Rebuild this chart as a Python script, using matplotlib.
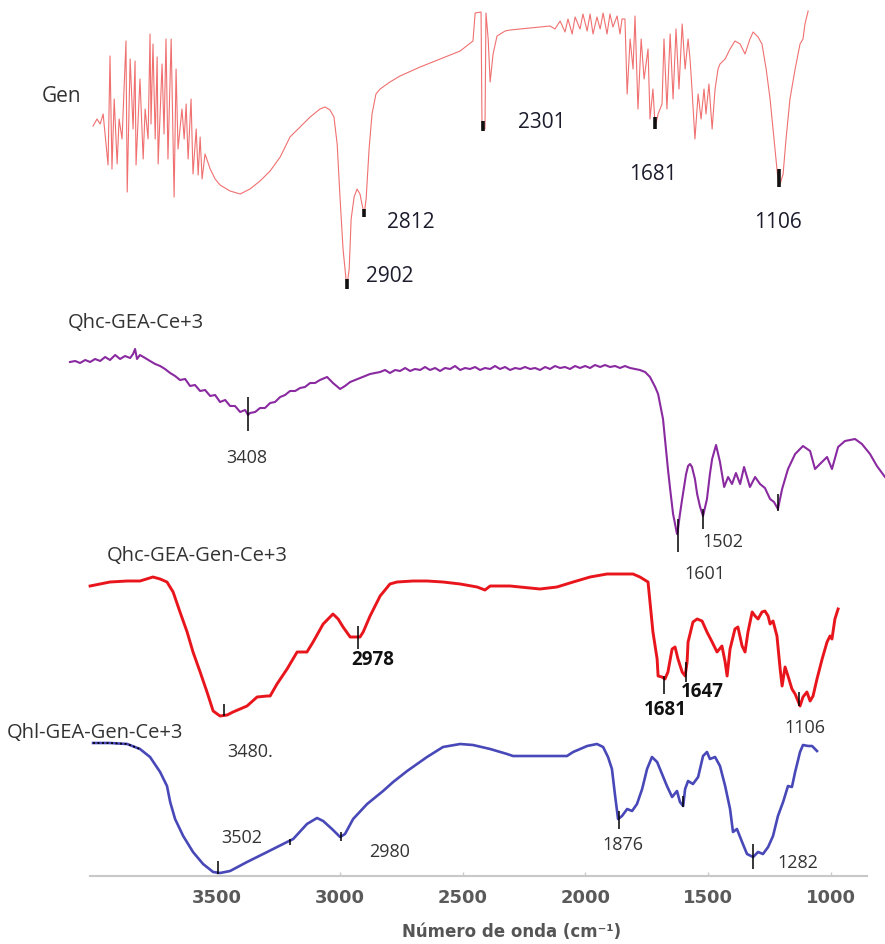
import matplotlib
matplotlib.use("Agg")
import matplotlib.pyplot as plt
import numpy as np

# ---------------- data (wavenumber cm-1, relative transmittance with offsets) -------------
gen_wn = [4005, 3989, 3976, 3964, 3956, 3944, 3936, 3928, 3919, 3907, 3899, 3887, 3871, 3866,
          3854, 3842, 3834, 3830, 3814, 3801, 3793, 3781, 3773, 3769, 3761, 3752, 3744, 3740,
          3724, 3716, 3708, 3700, 3687, 3675, 3667, 3659, 3643, 3634, 3626, 3618, 3606, 3598,
          3585, 3577, 3569, 3561, 3549, 3528, 3508, 3488, 3447, 3406, 3366, 3325, 3284, 3243,
          3203, 3162, 3121, 3081, 3060, 3040, 3024, 3011, 2999, 2987, 2975, 2971, 2962, 2954,
          2942, 2930, 2918, 2910, 2901, 2893, 2881, 2869, 2853, 2836, 2796, 2755, 2673, 2592,
          2510, 2458, 2449, 2425, 2421, 2409, 2405, 2396, 2388, 2376, 2360, 2327, 2307, 2266,
          2185, 2144, 2124, 2103, 2083, 2071, 2054, 2042, 2022, 2010, 1993, 1981, 1969, 1953,
          1940, 1928, 1912, 1900, 1888, 1871, 1859, 1851, 1839, 1830, 1818, 1806, 1798, 1786,
          1773, 1761, 1745, 1737, 1725, 1716, 1704, 1688, 1680, 1668, 1655, 1643, 1631, 1619,
          1606, 1594, 1582, 1574, 1566, 1554, 1541, 1529, 1517, 1509, 1497, 1484, 1472, 1460,
          1452, 1431, 1411, 1391, 1370, 1350, 1330, 1317, 1297, 1281, 1264, 1248, 1232, 1216,
          1207, 1195, 1183, 1167, 1146, 1126, 1114, 1106, 1093]
gen_t = [750, 757, 752, 762, 742, 711, 820, 707, 777, 712, 757, 737, 835, 684,
         817, 747, 815, 711, 797, 717, 767, 737, 842, 752, 832, 737, 819, 712,
         812, 742, 837, 717, 837, 679, 807, 727, 767, 737, 772, 717, 777, 702,
         747, 701, 739, 697, 722, 707, 697, 691, 685, 682, 687, 695, 705, 719,
         739, 749, 759, 767, 769, 766, 759, 732, 677, 627, 597, 590, 607, 657,
         679, 687, 682, 672, 662, 677, 727, 762, 782, 787, 794, 800, 809, 817,
         825, 835, 863, 864, 747, 747, 863, 837, 794, 822, 840, 845, 846, 847,
         849, 850, 847, 855, 844, 857, 842, 859, 847, 862, 845, 862, 842, 859,
         847, 863, 842, 862, 849, 860, 842, 857, 857, 782, 837, 807, 860, 767,
         837, 797, 827, 757, 787, 749, 762, 772, 837, 767, 842, 777, 847, 787,
         852, 807, 837, 817, 787, 737, 782, 757, 787, 762, 792, 747, 787, 807,
         812, 817, 827, 835, 832, 822, 837, 844, 839, 832, 807, 777, 737, 697,
         692, 702, 737, 777, 807, 832, 837, 852, 865]

ce_wn = [4099, 4078, 4058, 4037, 4017, 3997, 3976, 3956, 3936, 3915, 3895, 3875, 3854, 3842,
         3834, 3826, 3814, 3793, 3773, 3752, 3732, 3712, 3691, 3671, 3651, 3630, 3610, 3590,
         3569, 3549, 3528, 3508, 3488, 3467, 3447, 3427, 3406, 3386, 3374, 3366, 3345, 3325,
         3305, 3284, 3264, 3243, 3223, 3203, 3182, 3162, 3142, 3121, 3101, 3081, 3052, 3028,
         2999, 2979, 2958, 2918, 2877,
         2836, 2816, 2796, 2775, 2755, 2734, 2714, 2694, 2673, 2653, 2633, 2612, 2592, 2572,
         2551, 2531, 2510, 2490, 2470, 2449, 2429, 2409, 2388, 2368, 2348, 2327, 2307, 2286,
         2266, 2246, 2225, 2205, 2185, 2164, 2144, 2124, 2103, 2083, 2063, 2042, 2022, 2001,
         1981, 1961, 1940, 1920, 1900, 1879, 1859, 1839, 1818, 1798, 1778,
         1757, 1737, 1716, 1704, 1696, 1684, 1676, 1664, 1655, 1643,
         1635, 1627, 1623, 1615, 1606, 1590, 1582, 1574, 1566, 1554, 1545, 1533, 1521, 1505,
         1493, 1484, 1468, 1452, 1435, 1419, 1403, 1387, 1370, 1354, 1330, 1309, 1289, 1269,
         1248, 1232, 1216, 1199, 1175, 1146, 1114, 1085, 1065, 1045, 1016, 996, 971, 943,
         902, 874, 841, 813, 780]
ce_t = [514, 515, 513, 516, 514, 517, 515, 519, 516, 521, 517, 520, 518, 522,
        527, 517, 521, 518, 515, 512, 510, 507, 503, 500, 496, 497, 490, 491,
        485, 486, 480, 481, 474, 476, 470, 470, 464, 466, 461, 463, 464, 468,
        468, 473, 474, 479, 481, 485, 485, 488, 489, 493, 493, 496, 499, 493,
        487, 490, 494, 498, 502,
        504, 506, 503, 506, 505, 508, 505, 507, 506, 509, 506, 508, 505, 508,
        507, 510, 506, 508, 507, 509, 506, 508, 507, 510, 507, 509, 506, 508,
        507, 509, 507, 508, 506, 509, 507, 510, 508, 509, 507, 510, 508, 510,
        508, 511, 509, 511, 509, 510, 508, 510, 508, 507, 506,
        504, 499, 489, 482, 472, 457, 437, 407, 387, 362,
        352, 342, 347, 362, 377, 402, 410, 412, 409, 397, 382, 369, 360, 377,
        402, 417, 431, 414, 389, 399, 392, 403, 392, 409, 389, 399, 392, 388,
        377, 374, 367, 387, 407, 422, 430, 425, 407, 412, 419, 407, 429, 435,
        437, 432, 422, 410, 399]

gce_wn = [4017, 3936, 3866, 3814, 3761, 3732, 3704, 3679, 3651, 3622, 3598, 3569, 3541, 3516,
          3488, 3459, 3435, 3378, 3337, 3296, 3284, 3256, 3215, 3174, 3134, 3109, 3068, 3028,
          3007, 2987, 2958, 2930, 2918, 2905, 2877, 2836, 2796, 2767, 2702, 2645, 2580, 2510,
          2441, 2409, 2388, 2307, 2185, 2116, 2050, 1981, 1912, 1806, 1778, 1745, 1737, 1725,
          1708, 1704, 1688, 1676, 1664, 1647, 1635, 1623, 1606, 1594, 1586, 1582, 1562, 1545,
          1525, 1505, 1484, 1464, 1444, 1431, 1423, 1411, 1391, 1379, 1362, 1350, 1338, 1321,
          1309, 1297, 1281, 1269, 1256, 1248, 1236, 1220, 1207, 1199, 1187, 1175, 1159, 1146,
          1126, 1114, 1098, 1085, 1073, 1057, 1036, 1016, 1004, 996, 984, 971]
gce_t = [290, 294, 295, 295, 299, 297, 294, 284, 264, 244, 224, 204, 184, 165,
         160, 161, 164, 170, 179, 180, 180, 192, 207, 224, 224, 234, 252, 262,
         257, 249, 239, 239, 239, 244, 260, 280, 292, 294, 295, 295, 294, 292,
         289, 286, 290, 290, 287, 289, 294, 299, 302, 302, 299, 294, 274, 244,
         217, 200, 199, 197, 204, 227, 229, 217, 204, 200, 214, 234, 254, 257,
         255, 244, 234, 224, 230, 214, 200, 227, 247, 249, 230, 224, 244, 264,
         260, 257, 264, 265, 260, 252, 255, 240, 207, 190, 209, 200, 187, 182,
         170, 179, 184, 175, 180, 197, 217, 234, 240, 237, 257, 267]

gl_wn = [4005, 3936, 3866, 3814, 3773, 3732, 3704, 3691, 3671, 3638, 3598, 3557, 3516, 3488,
         3447, 3378, 3296, 3215, 3190, 3134, 3093, 3068, 3032, 2999, 2979, 2946, 2889, 2824,
         2783, 2726, 2645, 2580, 2510, 2458, 2388, 2319, 2295, 2185, 2075, 2050, 1993, 1953,
         1928, 1908, 1892, 1879, 1867, 1851, 1830, 1810, 1790, 1769, 1749, 1729, 1708, 1688,
         1668, 1647, 1627, 1615, 1602, 1594, 1582, 1562, 1541, 1521, 1505, 1493, 1472, 1452,
         1431, 1411, 1399, 1383, 1362, 1342, 1317, 1297, 1277, 1256, 1236, 1216, 1195, 1175,
         1159, 1146, 1126, 1114, 1093, 1077, 1057]
gl_t = [133, 133, 132, 127, 119, 104, 90, 74, 57, 40, 24, 12, 4, 3,
        5, 14, 24, 34, 37, 52, 58, 55, 47, 39, 42, 57, 72, 85,
        94, 105, 119, 129, 132, 131, 127, 122, 120, 120, 120, 124, 130, 132,
        129, 119, 107, 80, 57, 60, 67, 65, 72, 87, 107, 119, 114, 102,
        90, 79, 85, 74, 70, 87, 95, 92, 99, 120, 124, 117, 119, 110,
        90, 67, 44, 47, 34, 22, 19, 24, 22, 29, 40, 60, 74, 90,
        89, 104, 124, 131, 130, 130, 125]

# peak markers: (wavenumber, lower, upper)
gen_marks = [(2971, 587, 597), (2901, 659, 667), (2417, 745, 755), (1716, 747, 759), (1212, 689, 707)]
ce_marks = [(3374, 445, 479), (1623, 324, 357), (1521, 347, 367), (1216, 365, 382)]
gce_marks = [(3471, 160, 172), (2926, 227, 250), (1680, 182, 200), (1590, 194, 214), (1130, 170, 184)]
gl_marks = [(3496, 2, 15), (3203, 31, 37), (2995, 35, 44), (1863, 47, 65), (1602, 69, 80), (1317, 7, 32)]

xticks = [3500, 3000, 2500, 2000, 1500, 1000]
xlabel = "Número de onda (cm⁻¹)"

# ---------------- figure ----------------
W, H = 885, 945
fig = plt.figure(figsize=(W / 100, H / 100), dpi=100)
ax = fig.add_axes([0, 68 / H, 1, 877 / H])
ax.set_xlim(4384, 780)
ax.set_ylim(0, 877)

ax.plot(gen_wn, gen_t, color="#f07070", lw=0.8)
ax.plot(ce_wn, ce_t, color="#8a2aa0", lw=1.5)
ax.plot(gce_wn, gce_t, color="#e8161c", lw=2.1)
ax.plot(gl_wn, gl_t, color="#4848b8", lw=1.9)
ax.plot(gl_wn[:4], gl_t[:4], color="black", lw=1.3, ls=(0, (1, 1.5)))

def marks(lst, lw, color="black"):
    for w, lo, hi in lst:
        ax.vlines(w, lo, hi, color=color, lw=lw)

marks(gen_marks, 2.6, "#111111")
marks(ce_marks, 1.1)
marks(gce_marks, 1.1)
marks(gl_marks, 1.1)

for s in ["top", "left", "right"]:
    ax.spines[s].set_visible(False)
ax.spines["bottom"].set_color("#c8c8c8")
ax.spines["bottom"].set_linewidth(1.5)
ax.spines["bottom"].set_bounds(853, 4017)
ax.set_yticks([])
ax.set_xticks(xticks)
ax.tick_params(axis="x", direction="in", length=3, width=1, color="#c8c8c8", pad=9,
               labelsize=13, labelcolor="#5a5a5a")
for t in ax.get_xticklabels():
    t.set_fontweight("bold")
ax.patch.set_alpha(0)

def ftxt(x, y, s, size=14, ha="center", weight="normal", color="#333333", family="Open Sans"):
    fig.text(x / W, 1 - y / H, s, ha=ha, va="center", fontsize=size, fontweight=weight,
             color=color, family=family)

ftxt(512, 932, xlabel, size=12, weight="bold", color="#555555", family="DejaVu Sans")

# series names
ftxt(42, 97, "Gen", size=15, ha="left")
ftxt(68, 323, "Qhc-GEA-Ce+3", size=14.5, ha="left")
ftxt(107, 556, "Qhc-GEA-Gen-Ce+3", size=14.5, ha="left")
ftxt(7, 733, "Qhl-GEA-Gen-Ce+3", size=14.5, ha="left")

# Gen labels
gc = "#1c1c2c"
ftxt(411, 222, "2812", size=15, color=gc)
ftxt(390, 277, "2902", size=15, color=gc)
ftxt(542, 122, "2301", size=15, color=gc)
ftxt(653, 175, "1681", size=15, color=gc)
ftxt(778, 223, "1106", size=15, color=gc)

# purple labels
ftxt(247, 458, "3408", size=13)
ftxt(705, 574, "1601", size=13)
ftxt(723, 542, "1502", size=13)

# red labels
ftxt(373, 660, "2978", size=13.5, weight="bold", color="#111111")
ftxt(665, 710, "1681", size=13.5, weight="bold", color="#111111")
ftxt(702, 692, "1647", size=13.5, weight="bold", color="#111111")
ftxt(805, 728, "1106", size=13)
ftxt(250, 752, "3480.", size=13)

# blue labels
ftxt(242, 838, "3502", size=13)
ftxt(390, 852, "2980", size=13)
ftxt(623, 845, "1876", size=13)
ftxt(798, 863, "1282", size=13)

fig.savefig("out.png", dpi=100)
